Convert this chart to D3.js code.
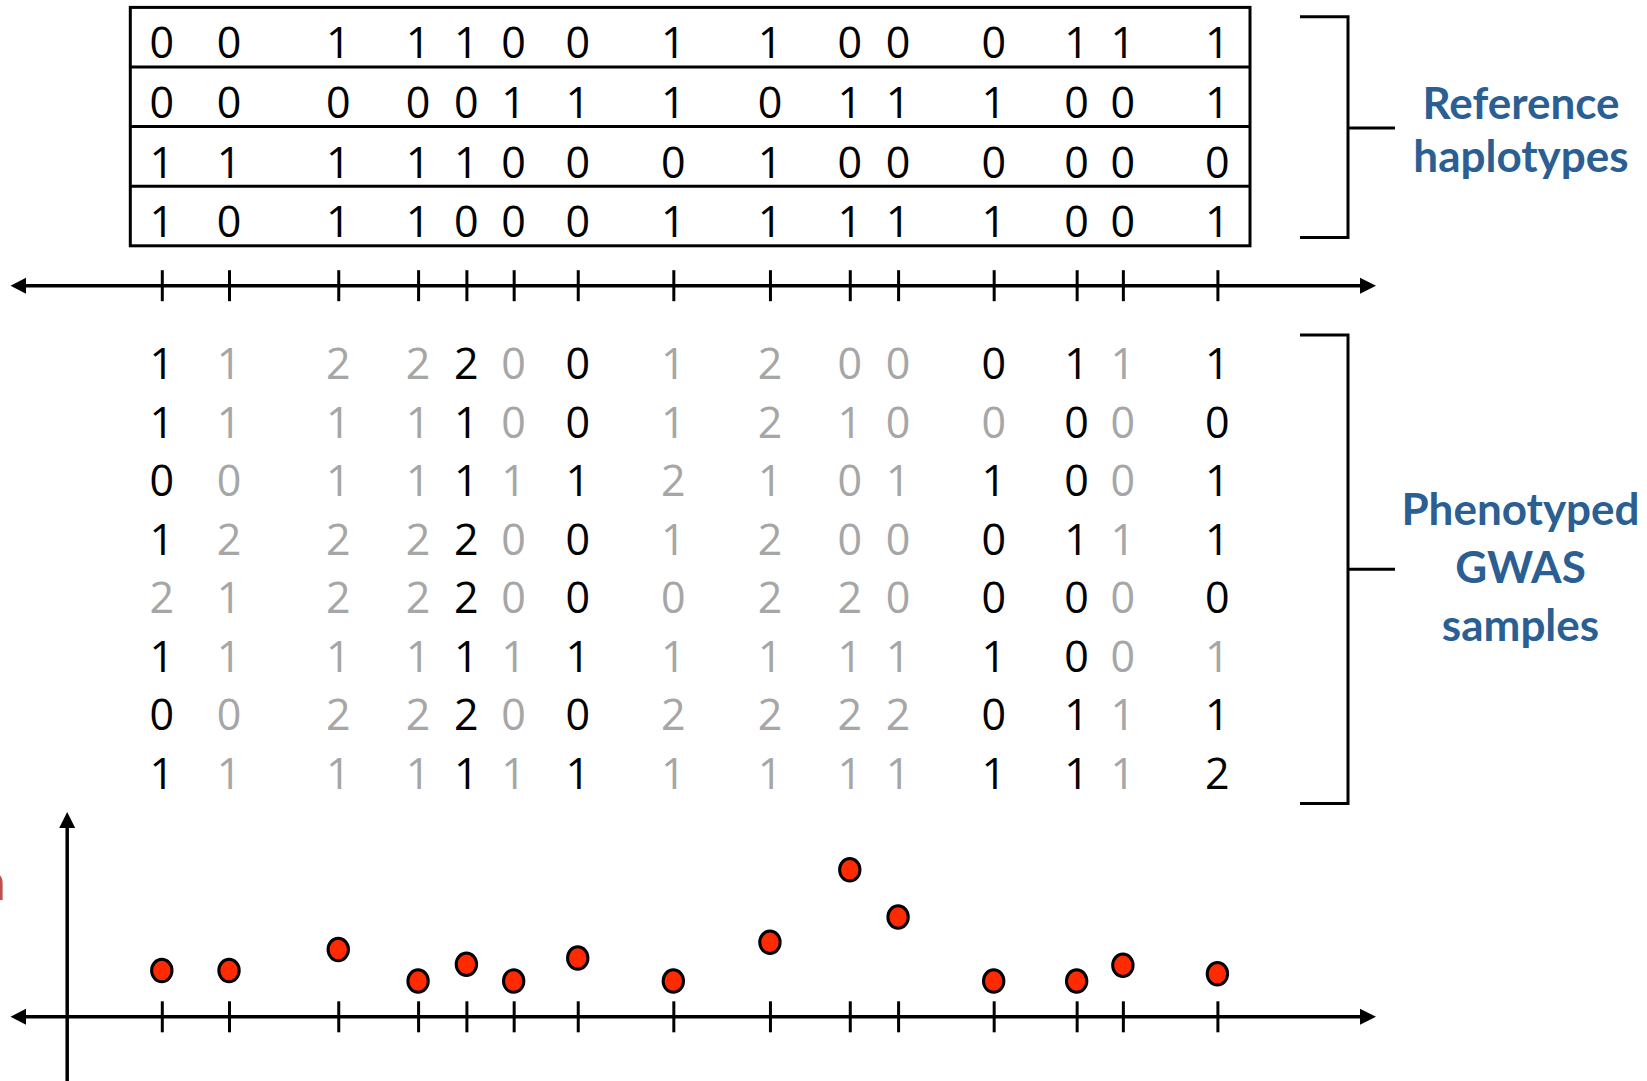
<!DOCTYPE html>
<html>
<head>
<meta charset="utf-8">
<script src="https://cdn.jsdelivr.net/npm/d3@7"></script>
<style>
  html, body { margin: 0; padding: 0; background: #fff; }
  svg { display: block; }
</style>
</head>
<body>
<svg id="chart" width="1647" height="1081"></svg>
<script>
// ---------- DATA ----------
const snpPos = [0, 6.4, 16.8, 24.4, 29.0, 33.5, 39.6, 48.7, 57.9, 65.5, 70.1, 79.2, 87.1, 91.5, 100.5];

const refHaplotypes = [
  [0,0,1,1,1,0,0,1,1,0,0,0,1,1,1],
  [0,0,0,0,0,1,1,1,0,1,1,1,0,0,1],
  [1,1,1,1,1,0,0,0,1,0,0,0,0,0,0],
  [1,0,1,1,0,0,0,1,1,1,1,1,0,0,1]
];

const gwasGenotypes = [
  [1,1,2,2,2,0,0,1,2,0,0,0,1,1,1],
  [1,1,1,1,1,0,0,1,2,1,0,0,0,0,0],
  [0,0,1,1,1,1,1,2,1,0,1,1,0,0,1],
  [1,2,2,2,2,0,0,1,2,0,0,0,1,1,1],
  [2,1,2,2,2,0,0,0,2,2,0,0,0,0,0],
  [1,1,1,1,1,1,1,1,1,1,1,1,0,0,1],
  [0,0,2,2,2,0,0,2,2,2,2,0,1,1,1],
  [1,1,1,1,1,1,1,1,1,1,1,1,1,1,2]
];

// t = typed (black), i = imputed (grey)
const gwasTyped = [
  "tiiititiiiittit",
  "tiiititiiiiitit",
  "tiiititiiiittit",
  "tiiititiiiittit",
  "iiiititiiiittit",
  "tiiititiiiittii",
  "tiiititiiiittit",
  "tiiititiiiittit"
];

const assocScore = [1.85, 1.85, 2.69, 1.43, 2.1, 1.43, 2.35, 1.43, 2.98, 5.88, 3.99, 1.43, 1.43, 2.06, 1.72];

const refLabel = ["Reference", "haplotypes"];
const gwasLabel = ["Phenotyped", "GWAS", "samples"];
const yAxisLabel = "Association";

// ---------- DRAWING ----------
const svg = d3.select("#chart");
const black = "#000";
const grey = "#A6A6A6";
const blue = "#2B5F93";
const digitFont = "'Open Sans', 'Noto Sans', sans-serif";
const labelFont = "Lato, 'Open Sans', sans-serif";

const x = d3.scaleLinear().domain([0, 100.5]).range([161.8, 1217.4]);

// Reference haplotype box
const boxX0 = 130.3, boxX1 = 1250;
const refRow = d3.scaleLinear().domain([0, refHaplotypes.length]).range([7.4, 245.8]);

svg.append("rect")
  .attr("x", boxX0).attr("y", refRow(0))
  .attr("width", boxX1 - boxX0).attr("height", refRow(4) - refRow(0))
  .attr("fill", "none").attr("stroke", black).attr("stroke-width", 3);

svg.selectAll("line.rowsep")
  .data(d3.range(1, refHaplotypes.length))
  .join("line")
  .attr("class", "rowsep")
  .attr("x1", boxX0).attr("x2", boxX1)
  .attr("y1", d => refRow(d)).attr("y2", d => refRow(d))
  .attr("stroke", black).attr("stroke-width", 3);

refHaplotypes.forEach((row, r) => {
  svg.append("g").selectAll("text")
    .data(row)
    .join("text")
    .attr("x", (d, i) => x(snpPos[i]))
    .attr("y", refRow(r) + 51)
    .attr("text-anchor", "middle")
    .attr("font-family", digitFont)
    .attr("font-size", 43)
    .attr("fill", black)
    .text(d => d);
});

// Axis helper: horizontal line with arrows and crossing ticks
function hAxis(yPos) {
  const g = svg.append("g");
  g.append("line")
    .attr("x1", 22).attr("x2", 1364)
    .attr("y1", yPos).attr("y2", yPos)
    .attr("stroke", black).attr("stroke-width", 3.5);
  g.append("path")
    .attr("d", `M10.5,${yPos} L26,${yPos - 8} L26,${yPos + 8} Z`)
    .attr("fill", black);
  g.append("path")
    .attr("d", `M1376,${yPos} L1360,${yPos - 8} L1360,${yPos + 8} Z`)
    .attr("fill", black);
  const ax = d3.axisBottom(x).tickValues(snpPos).tickSize(31).tickFormat("");
  const ag = g.append("g")
    .attr("transform", `translate(0,${yPos - 15.5})`)
    .call(ax);
  ag.select(".domain").remove();
  ag.selectAll(".tick line").attr("stroke", black).attr("stroke-width", 3);
}

hAxis(285.7);

// GWAS genotype block
const gRow = d3.scaleLinear().domain([0, gwasGenotypes.length - 1]).range([379, 789]);
gwasGenotypes.forEach((row, r) => {
  svg.append("g").selectAll("text")
    .data(row)
    .join("text")
    .attr("x", (d, i) => x(snpPos[i]))
    .attr("y", gRow(r))
    .attr("text-anchor", "middle")
    .attr("font-family", digitFont)
    .attr("font-size", 43)
    .attr("fill", (d, i) => gwasTyped[r][i] === "t" ? black : grey)
    .text(d => d);
});

// Brackets
function bracket(y0, y1, yStub) {
  const g = svg.append("g").attr("fill", "none").attr("stroke", black).attr("stroke-width", 3);
  g.append("path").attr("d", `M1300,${y0} L1348,${y0} L1348,${y1} L1300,${y1}`);
  g.append("line").attr("x1", 1348).attr("x2", 1395).attr("y1", yStub).attr("y2", yStub);
}
bracket(16.8, 237.4, 128);
bracket(335, 803.6, 569.3);

// Labels
svg.append("g").selectAll("text")
  .data(refLabel)
  .join("text")
  .attr("x", 1521)
  .attr("y", (d, i) => 119 + i * 53)
  .attr("text-anchor", "middle")
  .attr("font-family", labelFont)
  .attr("font-weight", "bold")
  .attr("font-size", 44)
  .attr("fill", blue)
  .text(d => d);

svg.append("g").selectAll("text")
  .data(gwasLabel)
  .join("text")
  .attr("x", 1520.5)
  .attr("y", (d, i) => 525 + i * 58)
  .attr("text-anchor", "middle")
  .attr("font-family", labelFont)
  .attr("font-weight", "bold")
  .attr("font-size", 44)
  .attr("fill", blue)
  .text(d => d);

// Bottom association plot
const y = d3.scaleLinear().domain([0, 8]).range([1016.8, 816.8]);

// y axis
svg.append("line")
  .attr("x1", 67.2).attr("x2", 67.2)
  .attr("y1", 1081).attr("y2", 826)
  .attr("stroke", black).attr("stroke-width", 3.5);
svg.append("path")
  .attr("d", "M67.2,812 L59.2,828 L75.2,828 Z")
  .attr("fill", black);

hAxis(y(0));

svg.append("text")
  .attr("x", 6).attr("y", 900)
  .attr("text-anchor", "end")
  .attr("font-family", labelFont)
  .attr("font-size", 52)
  .attr("fill", "#C0504D")
  .text(yAxisLabel);

svg.append("g").selectAll("ellipse")
  .data(assocScore)
  .join("ellipse")
  .attr("cx", (d, i) => x(snpPos[i]))
  .attr("cy", d => y(d))
  .attr("rx", 10.2)
  .attr("ry", 11.2)
  .attr("fill", "#FF2A00")
  .attr("stroke", black)
  .attr("stroke-width", 3);
</script>
</body>
</html>
